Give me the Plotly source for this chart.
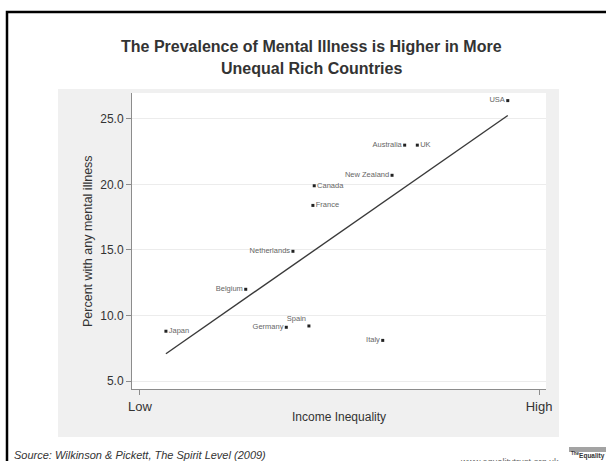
import numpy as np
import plotly.graph_objects as go

# ---- data ----
countries = ["USA", "Australia", "UK", "New Zealand", "Canada", "France",
             "Netherlands", "Belgium", "Japan", "Germany", "Spain", "Italy"]
inequality = [8.53, 6.98, 7.17, 6.79, 5.62, 5.60, 5.30, 4.59, 3.39, 5.20, 5.54, 6.65]
mental_illness = [26.4, 23.0, 23.0, 20.7, 19.9, 18.4, 14.9, 12.0, 8.8, 9.1, 9.2, 8.1]
label_pos = ["middle left", "middle left", "middle right", "middle left", "middle right",
             "middle right", "middle left", "middle left", "middle right", "middle left",
             "top left", "middle left"]
x_tick_vals = [3, 9]
x_tick_text = ["Low", "High"]
y_tick_vals = [5, 10, 15, 20, 25]

# ---- fitted line (OLS over the points) ----
slope, intercept = np.polyfit(inequality, mental_illness, 1)
fit_x = np.array([min(inequality), max(inequality)])
fit_y = slope * fit_x + intercept

W, H = 606, 461
L, R, T, B = 132, 546, 93, 389  # plot area in page pixels


def px(x):
    return (x - L) / (R - L)


def py(y):
    return (B - y) / (B - T)


FONT = "Liberation Sans, Arial, sans-serif"

fig = go.Figure()
fig.add_trace(go.Scatter(
    x=fit_x, y=fit_y, mode="lines",
    line=dict(color="#3a3a3a", width=1.4),
    hoverinfo="skip", showlegend=False))
fig.add_trace(go.Scatter(
    x=inequality, y=mental_illness, mode="markers+text",
    text=countries, textposition=label_pos,
    textfont=dict(family=FONT, size=7.5, color="#666666"),
    marker=dict(color="#222222", size=3, symbol="square"),
    cliponaxis=False, showlegend=False))

shapes = [
    dict(type="rect", xref="paper", yref="paper", x0=px(58), x1=px(559),
         y0=py(437), y1=py(89), fillcolor="#f0f0f0", line=dict(width=0), layer="below"),
    dict(type="rect", xref="paper", yref="paper", x0=0, x1=1, y0=0, y1=1,
         fillcolor="white", line=dict(width=0), layer="below"),
    dict(type="rect", xref="paper", yref="paper", x0=px(7), x1=px(650),
         y0=py(490), y1=py(12), fillcolor="rgba(0,0,0,0)",
         line=dict(color="black", width=2.5), layer="below"),
    dict(type="rect", xref="paper", yref="paper", x0=px(569), x1=px(615),
         y0=py(452), y1=py(447), fillcolor="#a3a3a3", line=dict(width=0), layer="below"),
]

annotations = [
    dict(text="<b>The Prevalence of Mental Illness is Higher in More</b>",
         x=px(311), y=py(47), xref="paper", yref="paper", xanchor="center", yanchor="middle",
         showarrow=False, font=dict(family=FONT, size=16, color="#333333")),
    dict(text="<b>Unequal Rich Countries</b>",
         x=px(311), y=py(68), xref="paper", yref="paper", xanchor="center", yanchor="middle",
         showarrow=False, font=dict(family=FONT, size=16, color="#333333")),
    dict(text="Percent with any mental illness", textangle=-90,
         x=px(88), y=py(241), xref="paper", yref="paper", xanchor="center", yanchor="middle",
         showarrow=False, font=dict(family=FONT, size=12.5, color="#333333")),
    dict(text="Income Inequality",
         x=px(339), y=py(417), xref="paper", yref="paper", xanchor="center", yanchor="middle",
         showarrow=False, font=dict(family=FONT, size=12, color="#333333")),
    dict(text="<i>Source: Wilkinson &amp; Pickett, The Spirit Level (2009)</i>",
         x=px(12), y=py(455), xref="paper", yref="paper", xanchor="left", yanchor="middle",
         showarrow=False, font=dict(family=FONT, size=11, color="#333333")),
    dict(text="www.equalitytrust.org.uk",
         x=px(458), y=py(454.5), xref="paper", yref="paper", xanchor="left", yanchor="top",
         showarrow=False, font=dict(family=FONT, size=9, color="#666666")),
    dict(text="<b><sup>The</sup>Equality Trust</b>",
         x=px(569), y=py(455), xref="paper", yref="paper", xanchor="left", yanchor="middle",
         showarrow=False, font=dict(family=FONT, size=6.5, color="#333333")),
]

fig.update_layout(
    width=W, height=H,
    margin=dict(l=L, r=W - R, t=T, b=H - B, pad=0),
    paper_bgcolor="white", plot_bgcolor="white",
    shapes=shapes, annotations=annotations,
    showlegend=False,
    xaxis=dict(range=[2.88, 9.105], tickvals=x_tick_vals, ticktext=x_tick_text,
               showgrid=False, zeroline=False, showline=True, linecolor="#8c8c8c",
               linewidth=1, ticks="outside", ticklen=5, tickcolor="#8c8c8c",
               tickfont=dict(family=FONT, size=13, color="#333333")),
    yaxis=dict(range=[4.39, 26.98], tickvals=y_tick_vals, tickformat=".1f",
               showgrid=True, gridcolor="#ececec", gridwidth=1, zeroline=False,
               showline=True, linecolor="#8c8c8c", linewidth=1,
               ticks="outside", ticklen=5, tickcolor="#8c8c8c",
               tickfont=dict(family=FONT, size=12, color="#333333")),
)

fig.write_html(
    "out.html",
    config={"displayModeBar": False},
    post_script="document.body.style.margin='0';document.body.style.overflow='hidden';",
)
